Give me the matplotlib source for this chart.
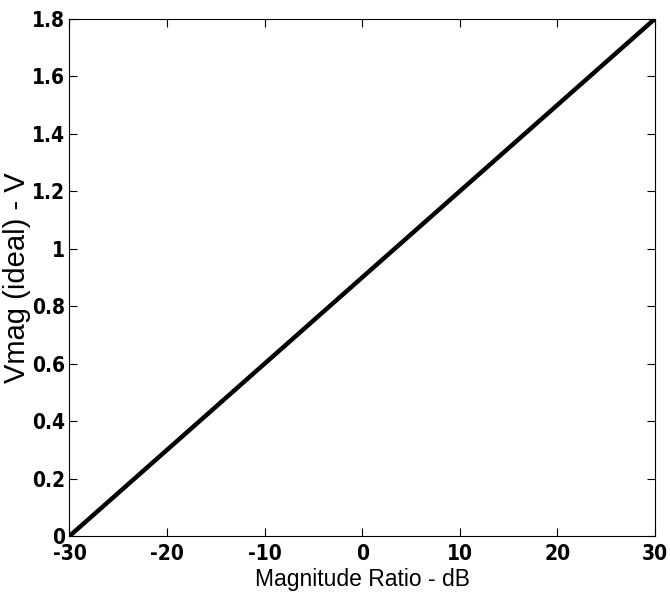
import matplotlib.pyplot as plt

# data
ratio_db = [-30, -20, -10, 0, 10, 20, 30]
vmag = [0.0, 0.3, 0.6, 0.9, 1.2, 1.5, 1.8]

xticks = [-30, -20, -10, 0, 10, 20, 30]
yticks = [0, 0.2, 0.4, 0.6, 0.8, 1, 1.2, 1.4, 1.6, 1.8]
yticklabels = ["0", "0.2", "0.4", "0.6", "0.8", "1", "1.2", "1.4", "1.6", "1.8"]

plt.rcParams['axes.unicode_minus'] = False

fig = plt.figure(figsize=(6.7, 6.03), dpi=100)
ax = fig.add_axes([0.1037, 0.111, 0.874, 0.858])

ax.plot(ratio_db, vmag, color="black", linewidth=3.2, solid_capstyle="butt")

ax.set_xlim(-30, 30)
ax.set_ylim(0, 1.8)
ax.set_xticks(xticks)
ax.set_yticks(yticks)
ax.set_yticklabels(yticklabels)
# matlab style box: inward ticks on all four sides
ax.tick_params(direction="in", length=6, width=0.8, top=True, right=True)
ax.tick_params(axis="x", pad=5.5)
ax.tick_params(axis="y", pad=3)
for lab in ax.get_xticklabels() + ax.get_yticklabels():
    lab.set_fontfamily("DejaVu Sans")
    lab.set_fontstretch("condensed")
    lab.set_fontweight("bold")
    lab.set_fontsize(15)

ax.set_xlabel("Magnitude Ratio - dB", fontsize=16.5, family="Liberation Sans", labelpad=3)
ax.set_ylabel("Vmag (ideal) - V", fontsize=21, family="Liberation Sans", labelpad=1)

fig.savefig("out.png", dpi=100)
